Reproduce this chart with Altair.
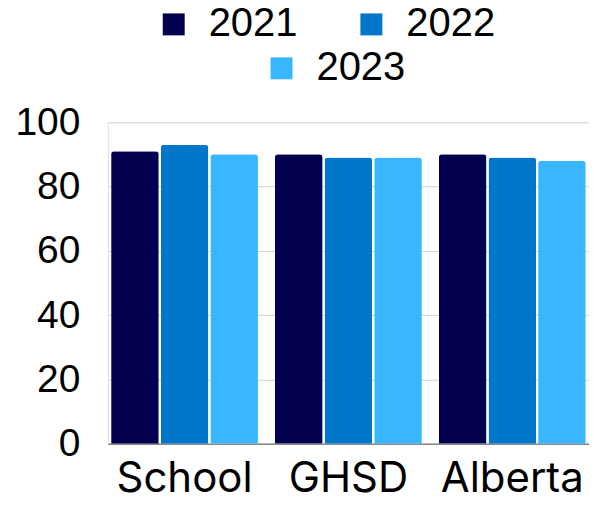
import altair as alt
import pandas as pd

groups = ["School", "GHSD", "Alberta"]
years = ["2021", "2022", "2023"]
values_2021 = [91, 90, 90]
values_2022 = [93, 89, 89]
values_2023 = [90, 89, 88]
colors = ["#03004F", "#0077C8", "#38B6FF"]

rows = []
for yr, vals in zip(years, [values_2021, values_2022, values_2023]):
    for g, v in zip(groups, vals):
        rows.append({"group": g, "year": yr, "value": v})
df = pd.DataFrame(rows)

x_enc = alt.X("group:N", sort=groups, title=None,
              scale=alt.Scale(paddingInner=0.104, paddingOuter=0.02),
              axis=alt.Axis(labelAngle=0, labelFont="Inter", labelFontSize=42,
                            labelColor="#000000", labelPadding=15, ticks=False,
                            domainColor="#888888", domainWidth=1.5))
y_enc = alt.Y("value:Q", title=None,
              scale=alt.Scale(domain=[0, 100], nice=False),
              axis=alt.Axis(values=[0, 20, 40, 60, 80, 100], labelFont="Liberation Sans",
                            labelFontSize=39, labelColor="#000000", labelPadding=28,
                            ticks=False, domain=False, gridColor="#d9d9d9",
                            gridWidth=1.2))

def legend_at(lx, ly):
    return alt.Legend(orient="none", legendX=lx, legendY=ly, direction="horizontal",
                      labelFont="Liberation Sans", labelFontSize=40,
                      labelColor="#000000", symbolType="square", symbolSize=484,
                      symbolStrokeWidth=0, symbolOpacity=1, columnPadding=54,
                      labelOffset=15)

base = alt.Chart(df)

bars = base.mark_bar(cornerRadiusTopLeft=3, cornerRadiusTopRight=3).encode(
    x=x_enc,
    xOffset=alt.XOffset("year:N", sort=years, scale=alt.Scale(paddingInner=0.04)),
    y=y_enc,
    fill=alt.Fill("year:N", sort=years, scale=alt.Scale(domain=years, range=colors),
                  legend=None),
)

leg1 = base.transform_filter(alt.FieldOneOfPredicate(field="year", oneOf=years[:2])).mark_point(
    size=0, opacity=0, filled=True).encode(
    x=alt.X("group:N", sort=groups),
    y=alt.Y("value:Q"),
    fill=alt.Fill("year:N", title=None,
                  scale=alt.Scale(domain=years[:2], range=colors[:2]),
                  legend=legend_at(46, -118)),
)

leg2 = base.transform_filter(alt.FieldOneOfPredicate(field="year", oneOf=years[2:])).mark_point(
    size=0, opacity=0, filled=True).encode(
    x=alt.X("group:N", sort=groups),
    y=alt.Y("value:Q"),
    fill=alt.Fill("year:N", title=None,
                  scale=alt.Scale(domain=years[2:], range=colors[2:]),
                  legend=legend_at(154, -74)),
)

chart = alt.layer(bars, leg1, leg2).resolve_scale(fill="independent").properties(
    width=482, height=322).configure_view(stroke=None).configure(
    padding={"left": 6, "top": -4, "right": 0, "bottom": 0}
)

chart.save("out.html", embed_options={"renderer": "svg", "actions": False})
